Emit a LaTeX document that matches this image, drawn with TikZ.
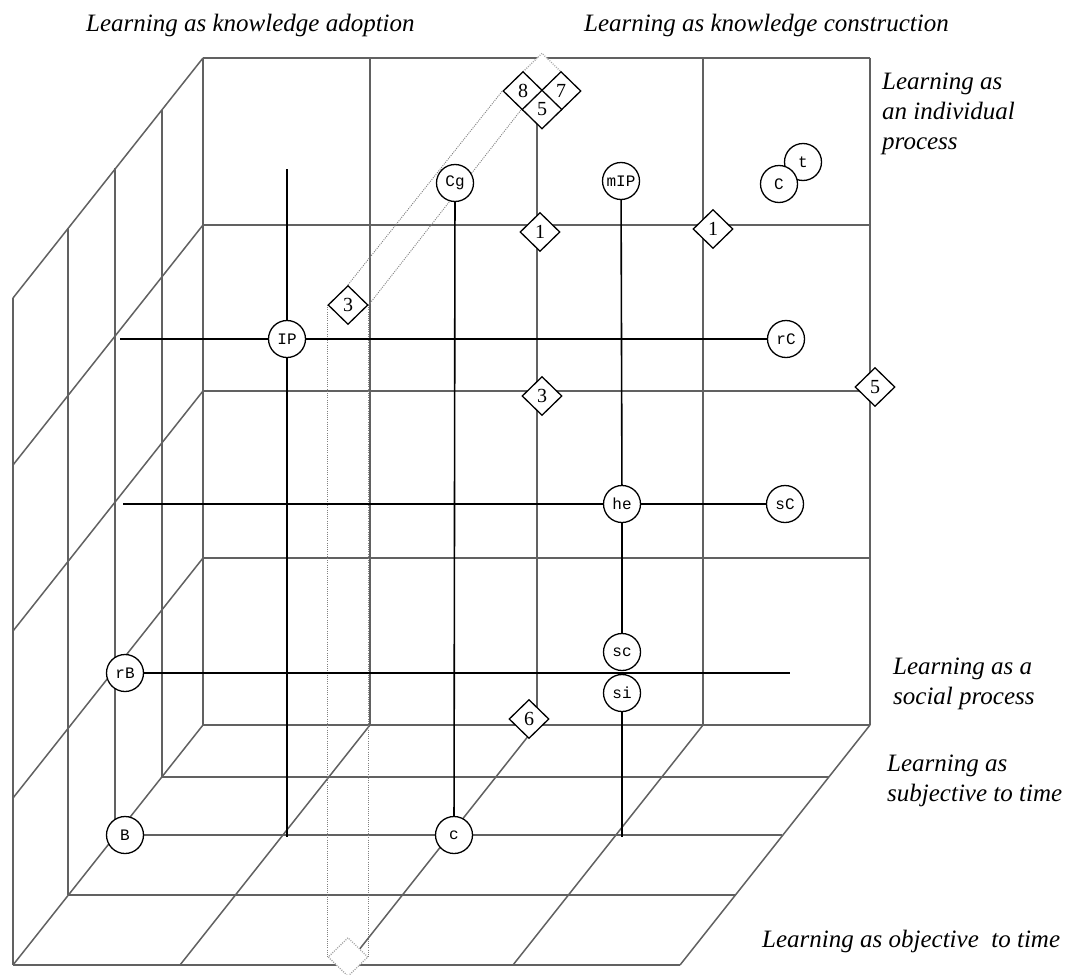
\documentclass[tikz,border=0pt]{standalone}
\usepackage{fontspec}
\setmainfont{Liberation Serif}
\newfontfamily\monof{Liberation Mono}
\usetikzlibrary{shapes.geometric,backgrounds}
\tikzset{
  gridl/.style={line width=1.5pt, draw=black!62},
  conn/.style={line width=1.6pt, draw=black},
  dotl/.style={line width=0.9pt, draw=black!50, dash pattern=on 1pt off 1.2pt},
  cnode/.style={circle, draw=black, line width=1.3pt, fill=white, minimum size=37pt, inner sep=0pt, font=\monof\fontsize{16}{16}\selectfont},
  dnode/.style={diamond, draw=black, line width=1.3pt, fill=white, minimum width=40pt, minimum height=39pt, inner sep=0pt, font=\fontsize{20}{20}\selectfont},
  hnode/.style={dnode, draw=black!35, dash pattern=on 1pt off 1.3pt},
  lab/.style={font=\itshape\fontsize{25}{30}\selectfont, inner sep=0pt, align=left},
}
\begin{document}
\begin{tikzpicture}[x=1pt,y=-1pt]
\useasboundingbox (0,0) rectangle (1067,974);

% ---- diamonds ----
\node[hnode] (dhid) at (542,72.5) {};
\node[dnode] (d8) at (523,91) {8};
\node[dnode] (d7) at (561,91) {7};
\node[dnode] (d5a) at (542,109.5) {5};
\node[dnode] (d1a) at (540,232) {1};
\node[dnode] (d1b) at (713,229) {1};
\node[dnode] (d3b) at (542,396) {3};
\node[dnode] (d5b) at (875,387) {5};
\node[dnode] (d6) at (529,719) {6};
\node[dnode] (d3f) at (348,305) {3};
\node[hnode] (dbot) at (348,957) {};

% ---- circles ----
\node[cnode] (IP) at (287,339) {IP};
\node[cnode] (rC) at (786,339) {rC};
\node[cnode] (Cg) at (455,183) {Cg};
\node[cnode] (mIP) at (621,181) {mIP};
\node[cnode] (t) at (803,162) {t};
\node[cnode] (C) at (779,184) {C};
\node[cnode] (he) at (622,504) {he};
\node[cnode] (sC) at (785,504) {sC};
\node[cnode] (sc) at (622,652) {sc};
\node[cnode] (si) at (622,693) {si};
\node[cnode] (rB) at (125,673) {rB};
\node[cnode] (B) at (125,835) {B};
\node[cnode] (c) at (454,835) {c};

% ---- free ends ----
\coordinate (v1t) at (287,169);
\coordinate (v1b) at (287,837);
\coordinate (h1l) at (120,339);
\coordinate (h2l) at (123,504);
\coordinate (h3r) at (790,673);
\coordinate (v3b) at (622,837);
\coordinate (fl2r) at (782,835);

% ---- labels ----
\node[lab, anchor=base west] (tA) at (86,32) {Learning as knowledge adoption};
\node[lab, anchor=base west] (tB) at (584,32) {Learning as knowledge construction};
\node[lab, anchor=north west] (tC) at (882,73) {Learning as\\an individual\\process};
\node[lab, anchor=north west] (tD) at (893,658) {Learning as a\\social process};
\node[lab, anchor=north west] (tE) at (887,755) {Learning as\\subjective to time};
\node[lab, anchor=base west] (tF) at (762,947) {Learning as objective~ to time};

\begin{scope}[on background layer]
  \fill[white] (0,0) rectangle (1067,974);
  % back face
  \foreach \x in {203,370,537,703,870} \draw[gridl] (\x,58) -- (\x,725);
  \foreach \y in {58,225,391,558,725} \draw[gridl] (203,\y) -- (870,\y);
  % left wall
  \foreach \dx/\dy in {-41/52,-88/110,-135/170,-190/240}
    \draw[gridl] ({203+(\dx)},{58+(\dy)}) -- ({203+(\dx)},{725+(\dy)});
  \foreach \y in {58,225,391,558}
    \draw[gridl] (203,\y) -- (13,{\y+240});
  % floor
  \foreach \dx/\dy in {-41/52,-135/170,-190/240}
    \draw[gridl] ({203+(\dx)},{725+(\dy)}) -- ({870+(\dx)},{725+(\dy)});
  \foreach \x in {203,370,537,703,870}
    \draw[gridl] (\x,725) -- ({\x-190},965);
  \draw[gridl] (B) -- (c) -- (fl2r);
  % dotted band
  \draw[dotl] (d3f.north) -- (d8.west);
  \draw[dotl] (d3f.east) -- (d5a.west);
  \draw[dotl] (d3f.west) -- (dbot.west);
  \draw[dotl] (d3f.east) -- (dbot.east);
  % connectors
  \draw[conn] (v1t) -- (IP) -- (v1b);
  \draw[conn] (h1l) -- (IP) -- (rC);
  \draw[conn] (Cg) -- (c);
  \draw[conn] (mIP) -- (he) -- (sc);
  \draw[conn] (si) -- (v3b);
  \draw[conn] (h2l) -- (he) -- (sC);
  \draw[conn] (rB) -- (h3r);
\end{scope}
\end{tikzpicture}
\end{document}
